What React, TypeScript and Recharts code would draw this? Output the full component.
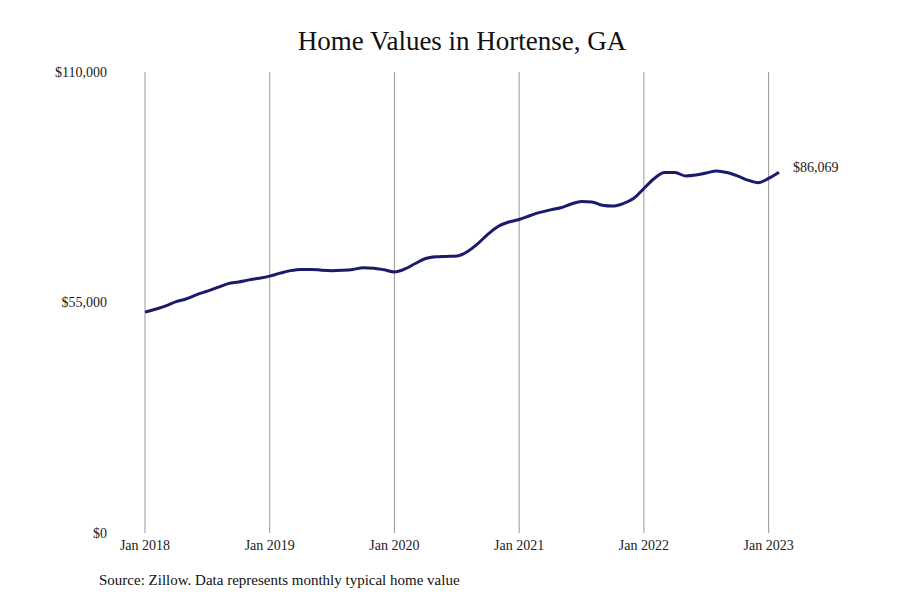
import React from 'react';
import { LineChart, Line, XAxis, YAxis, CartesianGrid } from 'recharts';

// Typical home value, one per month, Jan 2018 through Feb 2023
const values: number[] = [
  52700, 53400, 54200, 55200, 55900, 56900, 57700, 58600, 59500, 59900, 60400, 60800,
  61300, 62000, 62600, 62900, 62900, 62700, 62600, 62700, 62900, 63300, 63200, 62800,
  62300, 63000, 64300, 65500, 65900, 66000, 66100, 67100, 69000, 71300, 73200, 74200,
  74800, 75700, 76500, 77100, 77600, 78500, 79100, 79000, 78200, 78000, 78600, 79800,
  82200, 84600, 86000, 86000, 85200, 85400, 85900, 86400, 86000, 85200, 84200, 83600,
  84600, 86069,
];

const tickIndexes = [0, 12, 24, 36, 48, 60];
const tickLabels = ['Jan 2018', 'Jan 2019', 'Jan 2020', 'Jan 2021', 'Jan 2022', 'Jan 2023'];
const yTicks = [0, 55000, 110000];

const data = values.map((v, i) => ({ i, value: v }));

const FONT = '"Liberation Serif", serif';

const fmtMoney = (v: number) => '$' + v.toLocaleString('en-US');

const EndLabel: React.FC<any> = ({ x, y, index, value }) => {
  if (index !== data.length - 1) return null;
  return (
    <text x={x + 14} y={y - 5} dy="0.355em" fontSize={14} fontFamily={FONT} fill="#222">
      {fmtMoney(value)}
    </text>
  );
};

export default function App() {
  return (
    <div style={{ position: 'relative', width: 900, height: 600, background: '#fff', fontFamily: FONT }}>
      <style>{`body{margin:0}`}</style>
      <div
        style={{
          position: 'absolute', left: 145, width: 634, top: 25, textAlign: 'center',
          fontSize: 27, color: '#111', lineHeight: '32px',
        }}
      >
        Home Values in Hortense, GA
      </div>
      <LineChart width={900} height={600} data={data} margin={{ top: 72, right: 121, bottom: 37, left: 0 }}>
        <CartesianGrid horizontal={false} stroke="#999" verticalValues={tickIndexes} />
        <XAxis
          dataKey="i"
          type="number"
          domain={[0, values.length - 1]}
          ticks={tickIndexes}
          tickFormatter={(v: number) => tickLabels[tickIndexes.indexOf(v)]}
          axisLine={false}
          tickLine={false}
          tickMargin={1}
          tick={{ fontSize: 14, fontFamily: FONT, fill: '#222' }}
          interval={0}
        />
        <YAxis
          width={145}
          domain={[0, 110000]}
          ticks={yTicks}
          tickFormatter={fmtMoney}
          axisLine={false}
          tickLine={false}
          tickMargin={32}
          tick={{ fontSize: 14, fontFamily: FONT, fill: '#222' }}
          interval={0}
        />
        <Line
          type="monotone"
          dataKey="value"
          stroke="#1c1a6b"
          strokeWidth={3}
          dot={false}
          isAnimationActive={false}
          label={<EndLabel />}
        />
      </LineChart>
      <div style={{ position: 'absolute', left: 99, top: 572, fontSize: 15, color: '#111' }}>
        Source: Zillow. Data represents monthly typical home value
      </div>
    </div>
  );
}
